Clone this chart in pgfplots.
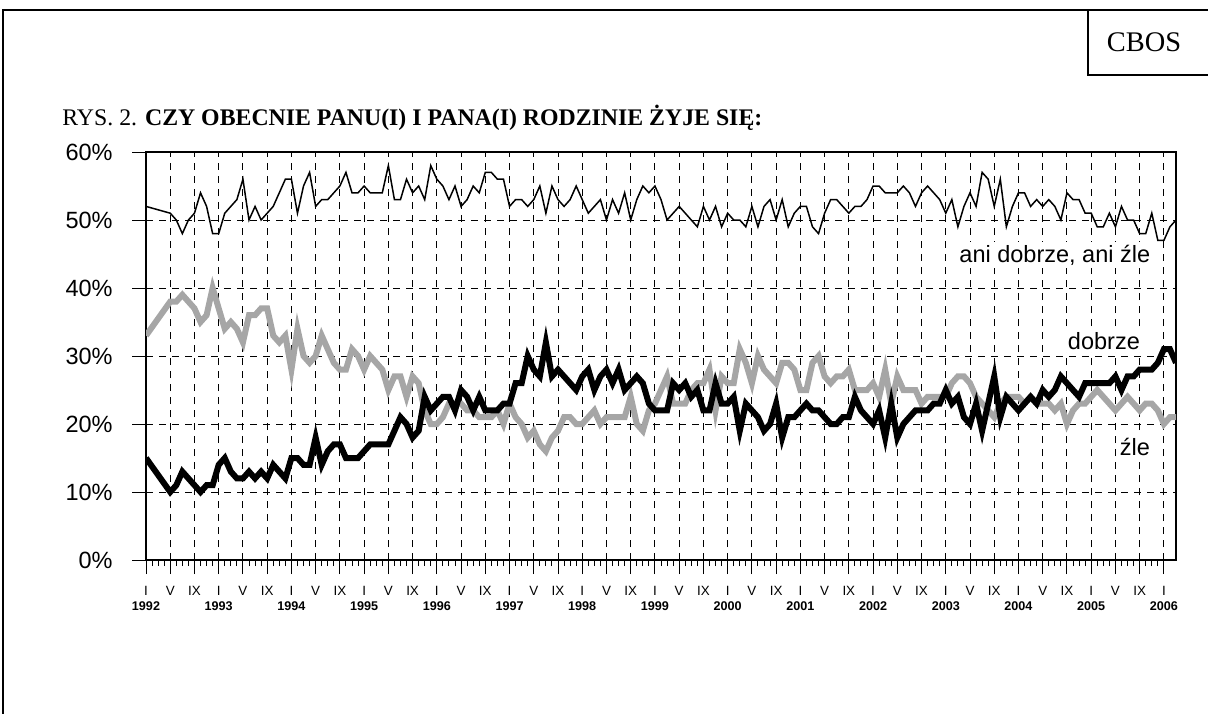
\documentclass[border=0pt]{standalone}
\usepackage{pgfplots}
\pgfplotsset{compat=1.18}
\usepackage{fontspec}
\setmainfont{Liberation Sans}
\newfontfamily\timesf{Liberation Serif}
\definecolor{zlegray}{RGB}{166,166,166}
\newcommand\yr[1]{\makebox[0pt]{I}\makebox[0pt]{\raisebox{-7.5pt}{\bfseries\fontsize{6.3}{8}\selectfont #1}}}
\begin{document}
\begin{tikzpicture}
\useasboundingbox (0,0) rectangle (604pt,356.5pt);
\draw[line width=1pt] (1.5pt,-20pt) -- (1.5pt,351.5pt) -- (640pt,351.5pt);
\draw[line width=1pt] (544pt,351.5pt) -- (544pt,319pt) -- (640pt,319pt);
\node[font=\timesf\fontsize{14.2}{16}\selectfont] at (572pt,335.5pt) {CBOS};
\node[anchor=base west, inner sep=0pt, font=\timesf\fontsize{11.9}{14}\selectfont] at (31pt,293.75pt) {RYS. 2. \textbf{CZY OBECNIE PANU(I) I PANA(I) RODZINIE ŻYJE SIĘ:}};
\begin{axis}[
  at={(73pt,76.5pt)}, anchor=south west,
  scale only axis, width=515pt, height=204pt,
  xmin=0, xmax=170, ymin=0, ymax=60,
  clip mode=individual,
  axis line style={line width=0.8pt},
  xtick={0,4,...,168},
  xticklabels={\yr{1992},V,IX,\yr{1993},V,IX,\yr{1994},V,IX,\yr{1995},V,IX,\yr{1996},V,IX,\yr{1997},V,IX,\yr{1998},V,IX,\yr{1999},V,IX,\yr{2000},V,IX,\yr{2001},V,IX,\yr{2002},V,IX,\yr{2003},V,IX,\yr{2004},V,IX,\yr{2005},V,IX,\yr{2006}},
  minor x tick num=3,
  ytick={0,10,...,60},
  yticklabels={,,,,,,},
  xtick pos=bottom, ytick pos=left,
  tick align=outside,
  major tick length=7pt,
  minor tick length=3pt,
  tick style={black, line width=0.5pt},
  grid=major,
  major grid style={black, line width=0.5pt, dash pattern=on 3.5pt off 3pt},
  xticklabel style={font=\fontsize{6.7}{8}\selectfont, inner sep=0pt, anchor=base, yshift=-10.5pt},
]
\addplot[black, line width=0.75pt] coordinates {
(0,52)(4,51)(5,50)(6,48)(7,50)(8,51)(9,54)(10,52)(11,48)(12,48)(13,51)(14,52)(15,53)(16,56)(17,50)(18,52)(19,50)(20,51)(21,52)(22,54)(23,56)(24,56)(25,51)(26,55)(27,57)(28,52)(29,53)(30,53)(31,54)(32,55)(33,57)(34,54)(35,54)(36,55)(37,54)(38,54)(39,54)(40,58)(41,53)(42,53)(43,56)(44,54)(45,55)(46,53)(47,58)(48,56)(49,55)(50,53)(51,55)(52,52)(53,53)(54,55)(55,54)(56,57)(57,57)(58,56)(59,56)(60,52)(61,53)(62,53)(63,52)(64,53)(65,55)(66,51)(67,55)(68,53)(69,52)(70,53)(71,55)(72,53)(73,51)(74,52)(75,53)(76,50)(77,53)(78,51)(79,54)(80,50)(81,53)(82,55)(83,54)(84,55)(85,53)(86,50)(87,51)(88,52)(89,51)(90,50)(91,49)(92,52)(93,50)(94,52)(95,49)(96,51)(97,50)(98,50)(99,49)(100,52)(101,49)(102,52)(103,53)(104,50)(105,53)(106,49)(107,51)(108,52)(109,52)(110,49)(111,48)(112,51)(113,53)(114,53)(115,52)(116,51)(117,52)(118,52)(119,53)(120,55)(121,55)(122,54)(123,54)(124,54)(125,55)(126,54)(127,52)(128,54)(129,55)(130,54)(131,53)(132,51)(133,53)(134,49)(135,52)(136,54)(137,52)(138,57)(139,56)(140,52)(141,56)(142,49)(143,52)(144,54)(145,54)(146,52)(147,53)(148,52)(149,53)(150,52)(151,50)(152,54)(153,53)(154,53)(155,51)(156,51)(157,49)(158,49)(159,51)(160,49)(161,52)(162,50)(163,50)(164,48)(165,48)(166,51)(167,47)(168,47)(169,49)(170,50)
};
\addplot[zlegray, line width=3pt] coordinates {
(0,33)(4,38)(5,38)(6,39)(7,38)(8,37)(9,35)(10,36)(11,40)(12,37)(13,34)(14,35)(15,34)(16,32)(17,36)(18,36)(19,37)(20,37)(21,33)(22,32)(23,33)(24,28)(25,34)(26,30)(27,29)(28,30)(29,33)(30,31)(31,29)(32,28)(33,28)(34,31)(35,30)(36,28)(37,30)(38,29)(39,28)(40,25)(41,27)(42,27)(43,24)(44,27)(45,26)(46,22)(47,20)(48,20)(49,21)(50,23)(51,23)(52,23)(53,22)(54,22)(55,21)(56,21)(57,21)(58,22)(59,20)(60,23)(61,21)(62,20)(63,18)(64,19)(65,17)(66,16)(67,18)(68,19)(69,21)(70,21)(71,20)(72,20)(73,21)(74,22)(75,20)(76,21)(77,21)(78,21)(79,21)(80,24)(81,20)(82,19)(83,22)(84,23)(85,25)(86,27)(87,23)(88,23)(89,23)(90,25)(91,26)(92,26)(93,28)(94,22)(95,27)(96,26)(97,26)(98,31)(99,29)(100,26)(101,30)(102,28)(103,27)(104,26)(105,29)(106,29)(107,28)(108,25)(109,25)(110,29)(111,30)(112,27)(113,26)(114,27)(115,27)(116,28)(117,25)(118,25)(119,25)(120,26)(121,24)(122,28)(123,23)(124,27)(125,25)(126,25)(127,25)(128,23)(129,24)(130,24)(131,24)(132,24)(133,26)(134,27)(135,27)(136,26)(137,24)(138,23)(139,22)(140,21)(141,23)(142,24)(143,24)(144,24)(145,23)(146,24)(147,23)(148,23)(149,23)(150,22)(151,23)(152,20)(153,22)(154,23)(155,23)(156,24)(157,25)(158,24)(159,23)(160,22)(161,23)(162,24)(163,23)(164,22)(165,23)(166,23)(167,22)(168,20)(169,21)(170,21)
};
\addplot[black, line width=3pt] coordinates {
(0,15)(4,10)(5,11)(6,13)(7,12)(8,11)(9,10)(10,11)(11,11)(12,14)(13,15)(14,13)(15,12)(16,12)(17,13)(18,12)(19,13)(20,12)(21,14)(22,13)(23,12)(24,15)(25,15)(26,14)(27,14)(28,18)(29,14)(30,16)(31,17)(32,17)(33,15)(34,15)(35,15)(36,16)(37,17)(38,17)(39,17)(40,17)(41,19)(42,21)(43,20)(44,18)(45,19)(46,24)(47,22)(48,23)(49,24)(50,24)(51,22)(52,25)(53,24)(54,22)(55,24)(56,22)(57,22)(58,22)(59,23)(60,23)(61,26)(62,26)(63,30)(64,28)(65,27)(66,32)(67,27)(68,28)(69,27)(70,26)(71,25)(72,27)(73,28)(74,25)(75,27)(76,28)(77,26)(78,28)(79,25)(80,26)(81,27)(82,26)(83,23)(84,22)(85,22)(86,22)(87,26)(88,25)(89,26)(90,24)(91,25)(92,22)(93,22)(94,26)(95,23)(96,23)(97,24)(98,19)(99,23)(100,22)(101,21)(102,19)(103,20)(104,23)(105,18)(106,21)(107,21)(108,22)(109,23)(110,22)(111,22)(112,21)(113,20)(114,20)(115,21)(116,21)(117,24)(118,22)(119,21)(120,20)(121,22)(122,18)(123,23)(124,18)(125,20)(126,21)(127,22)(128,22)(129,22)(130,23)(131,23)(132,25)(133,23)(134,24)(135,21)(136,20)(137,23)(138,19)(139,23)(140,27)(141,21)(142,24)(143,23)(144,22)(145,23)(146,24)(147,23)(148,25)(149,24)(150,25)(151,27)(152,26)(153,25)(154,24)(155,26)(156,26)(157,26)(158,26)(159,26)(160,27)(161,25)(162,27)(163,27)(164,28)(165,28)(166,28)(167,29)(168,31)(169,31)(170,29)
};
\pgfplotsinvokeforeach{0,10,20,30,40,50,60}{
  \node[anchor=east, inner sep=0pt, font=\fontsize{11.75}{14}\selectfont] at ([xshift=-16.5pt]axis cs:0,#1) {#1\%};
}
\node[anchor=base, fill=white, inner sep=1.5pt, font=\fontsize{11.75}{14}\selectfont] at (axis cs:150,43.8) {ani dobrze, ani źle};
\node[anchor=base, fill=white, inner sep=1.5pt, font=\fontsize{11.75}{14}\selectfont] at (axis cs:158.1,31.0) {dobrze};
\node[anchor=base, fill=white, inner sep=1.5pt, font=\fontsize{11.75}{14}\selectfont] at (axis cs:163.2,15.4) {źle};
\end{axis}
\end{tikzpicture}
\end{document}
